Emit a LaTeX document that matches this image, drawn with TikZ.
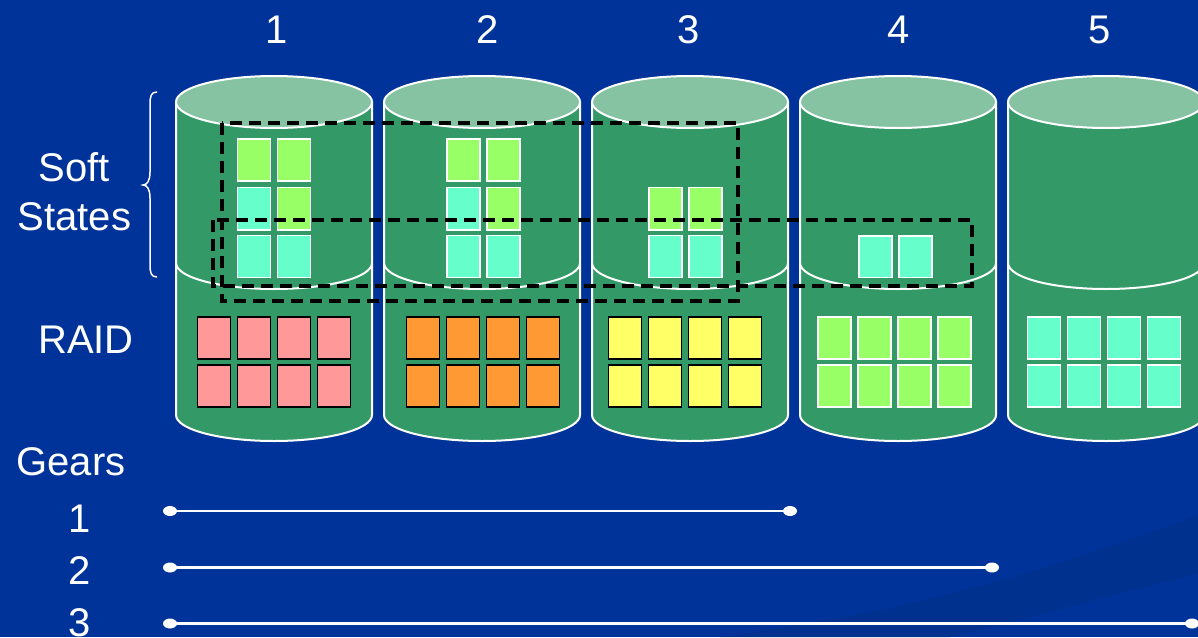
\documentclass[tikz,border=0pt]{standalone}
\usepackage{fontspec}
\setmainfont{Liberation Sans}
\definecolor{bg}{HTML}{003399}
\definecolor{swooshc}{HTML}{00318F}
\definecolor{cylbodyc}{HTML}{339966}
\definecolor{cyltopc}{HTML}{86C3A3}
\definecolor{softgreen}{HTML}{99FF66}
\definecolor{softaqua}{HTML}{66FFCC}
\definecolor{raidpink}{HTML}{FF9999}
\definecolor{raidorange}{HTML}{FF9933}
\definecolor{raidyellow}{HTML}{FFFF66}
\tikzset{
  cylbody/.style={fill=cylbodyc,draw=white,line width=2pt},
  cyltop/.style={fill=cyltopc,draw=white,line width=2pt},
  cylline/.style={draw=white,line width=2pt},
  whitecell/.style={draw=white,line width=1.8pt},
  blackcell/.style={draw=black,line width=1.8pt},
  cellA/.style={blackcell,fill=raidpink},
  cellB/.style={blackcell,fill=raidorange},
  cellC/.style={blackcell,fill=raidyellow},
  cellD/.style={whitecell,fill=softgreen},
  cellE/.style={whitecell,fill=softaqua},
  groupbox/.style={draw=black,line width=3.2pt,dash pattern=on 12pt off 7pt},
  lbl/.style={text=white,font=\fontsize{40}{48}\selectfont,anchor=base,inner sep=0pt},
  gearline/.style={draw=white,line width=2.4pt},
  geardot/.style={fill=white}
}
\newcommand\cellbox[4]{\draw[#4] (#1-16.5,#2) rectangle (#1+16.5,#3);}
\begin{document}
\begin{tikzpicture}[x=1pt,y=-1pt]
\useasboundingbox (0,0) rectangle (1198,637);
\clip (0,0) rectangle (1198,637);
\fill[bg] (0,0) rectangle (1198,637);
\fill[swooshc] (1198,515) .. controls (1000,590) and (850,620) .. (720,637) -- (950,637) .. controls (1050,612) and (1150,586) .. (1198,573) -- cycle;
% cylinders
\foreach \cx in {274,482,690,898,1106}{
  \path[cylbody] (\cx-98,102) -- (\cx-98,415) .. controls (\cx-98,429.4) and (\cx-54.1,441) .. (\cx,441) .. controls (\cx+54.1,441) and (\cx+98,429.4) .. (\cx+98,415) -- (\cx+98,102) -- cycle;
  \draw[cyltop] (\cx,102) ellipse [x radius=98pt,y radius=26pt];
  \draw[cylline] (\cx-98,263) .. controls (\cx-98,277.4) and (\cx-54.1,289) .. (\cx,289) .. controls (\cx+54.1,289) and (\cx+98,277.4) .. (\cx+98,263);
}
% soft state cells
\foreach \a/\b in {254/294,463.5/503.5}{
  \cellbox{\a}{139}{181}{cellD}
  \cellbox{\b}{139}{181}{cellD}
  \cellbox{\a}{187.5}{230}{cellE}
  \cellbox{\b}{187.5}{230}{cellD}
  \cellbox{\a}{235.5}{277.5}{cellE}
  \cellbox{\b}{235.5}{277.5}{cellE}
}
\cellbox{665.5}{187.5}{230}{cellD}
\cellbox{705.5}{187.5}{230}{cellD}
\cellbox{665.5}{235.5}{277.5}{cellE}
\cellbox{705.5}{235.5}{277.5}{cellE}
\cellbox{875.5}{236}{277.5}{cellE}
\cellbox{915.5}{236}{277.5}{cellE}
% RAID cells
\foreach \c/\st in {274/cellA,483/cellB,685/cellC,894.5/cellD,1104/cellE}{
  \foreach \o in {-60,-20,20,60}{
    \cellbox{\c+\o}{317}{359}{\st}
    \cellbox{\c+\o}{365}{407}{\st}
  }
}
% dashed group boxes
\draw[groupbox] (222,123) rectangle (738,301);
\draw[groupbox] (213,220) rectangle (972,286);
% brace
\draw[white,line width=1.5pt] (157,92) .. controls (151,92) and (150,96) .. (150,105) -- (150,172) .. controls (150,181) and (147,185) .. (143,185) .. controls (147,185) and (150,189) .. (150,198) -- (150,264) .. controls (150,273) and (151,277) .. (157,277);
% labels
\node[lbl] (n1) at (277,43) {1};
\node[lbl] (n2) at (487.5,43) {2};
\node[lbl] (n3) at (689,43) {3};
\node[lbl] (n4) at (899,43) {4};
\node[lbl] (n5) at (1100,43) {5};
\node[lbl] (soft) at (74,181) {Soft};
\node[lbl] (states) at (74.5,230) {States};
\node[lbl] (raid) at (86,353) {RAID};
\node[lbl] (gears) at (71,475) {Gears};
\node[lbl] (g1) at (80,532) {1};
\node[lbl] (g2) at (80,584) {2};
\node[lbl] (g3) at (80,636) {3};
% gear lines
\coordinate (g1s) at (170,511); \coordinate (g1e) at (790,511);
\coordinate (g2s) at (170,567.5); \coordinate (g2e) at (992,567.5);
\coordinate (g3s) at (170,623.5); \coordinate (g3e) at (1192,623.5);
\foreach \g in {g1,g2,g3}{
  \draw[gearline] (\g s) -- (\g e);
  \fill[geardot] (\g s) ellipse [x radius=7pt,y radius=5pt];
  \fill[geardot] (\g e) ellipse [x radius=7pt,y radius=5pt];
}
\end{tikzpicture}
\end{document}
